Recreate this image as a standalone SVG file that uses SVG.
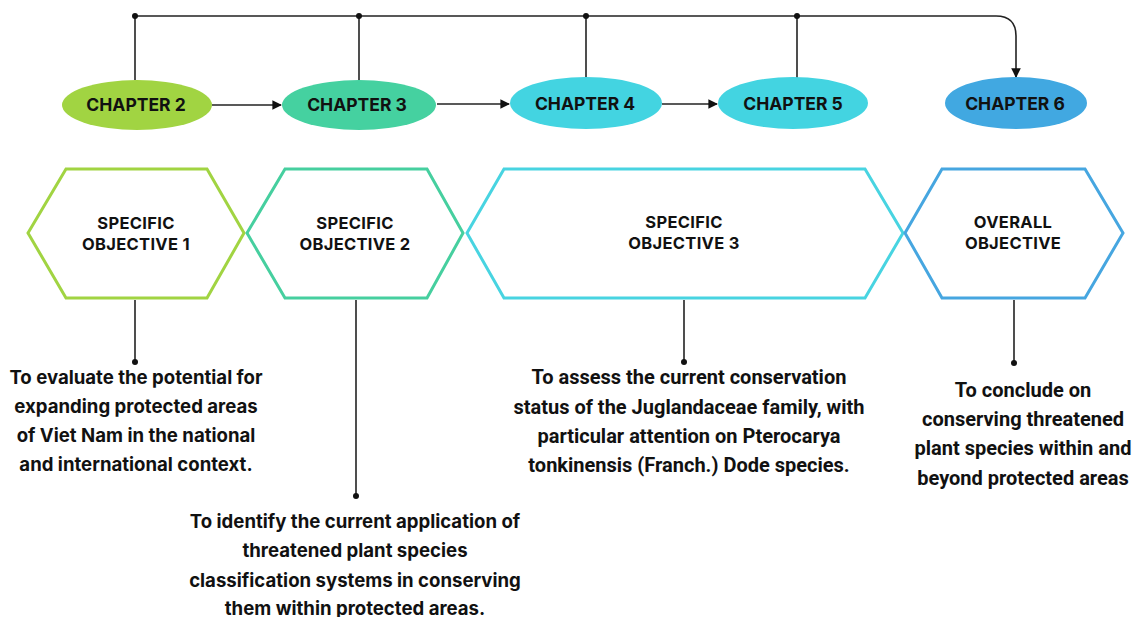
<svg xmlns="http://www.w3.org/2000/svg" width="1144" height="617" viewBox="0 0 1144 617">
  <style>
    .chap { font-family: Inter, "Liberation Sans", sans-serif; font-weight: 700; font-size: 17.5px; fill: #111; text-anchor: middle; }
    .hex { fill: #fff; stroke-width: 3; stroke-linejoin: miter; }
    .hlab { font-family: Inter, "Liberation Sans", sans-serif; font-weight: 700; font-size: 16.5px; fill: #111; text-anchor: middle; letter-spacing: 0.3px; }
    .desc { font-family: Inter, "Liberation Sans", sans-serif; font-weight: 700; font-size: 18.6px; fill: #111; text-anchor: middle; }
    .desc2 { font-family: Roboto, "Liberation Sans", sans-serif; font-weight: 700; font-size: 20px; fill: #111; text-anchor: middle; }
    .line { fill: none; stroke: #222; stroke-width: 1.6; }
    .dot { fill: #111; }
  </style>
  <defs>
    <marker id="arrow" viewBox="0 0 10 10" refX="9" refY="5" markerWidth="6" markerHeight="6" orient="auto">
      <path d="M0,0 L10,5 L0,10 z" fill="#111"/>
    </marker>
  </defs>

  <rect width="1144" height="617" fill="#fff"/>

  <!-- connectors -->
  <g id="connectors">
    <path class="line" d="M135,16 H996 Q1016,16 1016,36 V77" marker-end="url(#arrow)"/>
    <line class="line" x1="135" y1="16" x2="135" y2="80"/>
    <line class="line" x1="359" y1="16" x2="359" y2="80"/>
    <line class="line" x1="586" y1="16" x2="586" y2="78"/>
    <line class="line" x1="797" y1="16" x2="797" y2="78"/>
    <circle class="dot" cx="135" cy="16" r="3"/>
    <circle class="dot" cx="359" cy="16" r="3"/>
    <circle class="dot" cx="586" cy="16" r="3"/>
    <circle class="dot" cx="797" cy="16" r="3"/>

    <line class="line" x1="212" y1="105" x2="281" y2="105" marker-end="url(#arrow)"/>
    <line class="line" x1="437" y1="104" x2="509" y2="104" marker-end="url(#arrow)"/>
    <line class="line" x1="662" y1="104" x2="717" y2="104" marker-end="url(#arrow)"/>

    <line class="line" x1="135" y1="300" x2="135" y2="362"/>
    <circle class="dot" cx="135" cy="362" r="3"/>
    <line class="line" x1="356" y1="300" x2="356" y2="496"/>
    <circle class="dot" cx="356" cy="496" r="3"/>
    <line class="line" x1="684" y1="300" x2="684" y2="362"/>
    <circle class="dot" cx="684" cy="362" r="3"/>
    <line class="line" x1="1014" y1="300" x2="1014" y2="363"/>
    <circle class="dot" cx="1014" cy="363" r="3"/>
  </g>

  <!-- chapters -->
  <g id="chapter2">
    <ellipse cx="137" cy="105" rx="75" ry="25" fill="#A1D442"/>
    <text class="chap" x="136" y="110.5">CHAPTER 2</text>
  </g>
  <g id="chapter3">
    <ellipse cx="359" cy="105" rx="77" ry="25" fill="#45D1A0"/>
    <text class="chap" x="357" y="110.5">CHAPTER 3</text>
  </g>
  <g id="chapter4">
    <ellipse cx="586" cy="103" rx="76" ry="26" fill="#43D4E1"/>
    <text class="chap" x="585" y="109.5">CHAPTER 4</text>
  </g>
  <g id="chapter5">
    <ellipse cx="793" cy="103" rx="75" ry="26" fill="#43D4E1"/>
    <text class="chap" x="793" y="109.5">CHAPTER 5</text>
  </g>
  <g id="chapter6">
    <ellipse cx="1016" cy="103" rx="71" ry="26" fill="#41A8E1"/>
    <text class="chap" x="1015" y="109.5">CHAPTER 6</text>
  </g>

  <!-- objectives -->
  <g id="objective1">
    <polygon class="hex" stroke="#A1D442" points="28,233 66,169 207,169 244,233 207,298 66,298"/>
    <text class="hlab" x="136" y="229">SPECIFIC</text>
    <text class="hlab" x="136" y="250">OBJECTIVE 1</text>
  </g>
  <g id="objective2">
    <polygon class="hex" stroke="#46CF9F" points="247,233 285,169 427,169 463,233 427,298 285,298"/>
    <text class="hlab" x="355" y="229">SPECIFIC</text>
    <text class="hlab" x="355" y="250">OBJECTIVE 2</text>
  </g>
  <g id="objective3">
    <polygon class="hex" stroke="#48D4E1" points="467,233 504,169 865,169 903,233 865,298 504,298"/>
    <text class="hlab" x="684" y="228">SPECIFIC</text>
    <text class="hlab" x="684" y="249">OBJECTIVE 3</text>
  </g>
  <g id="objective4">
    <polygon class="hex" stroke="#46A6E0" points="905,233 942,169 1085,169 1123,233 1085,298 942,298"/>
    <text class="hlab" x="1013" y="228">OVERALL</text>
    <text class="hlab" x="1013" y="249">OBJECTIVE</text>
  </g>

  <!-- descriptions -->
  <g id="desc1">
    <text class="desc" x="136" y="384">To evaluate the potential for</text>
    <text class="desc" x="136" y="413">expanding protected areas</text>
    <text class="desc" x="136" y="442">of Viet Nam in the national</text>
    <text class="desc" x="136" y="471">and international context.</text>
  </g>
  <g id="desc2">
    <text class="desc" x="355" y="528">To identify the current application of</text>
    <text class="desc" x="355" y="557">threatened plant species</text>
    <text class="desc" x="355" y="587">classification systems in conserving</text>
    <text class="desc" x="355" y="615">them within protected areas.</text>
  </g>
  <g id="desc3">
    <text class="desc2" x="689" y="384">To assess the current conservation</text>
    <text class="desc2" x="689" y="414">status of the Juglandaceae family, with</text>
    <text class="desc2" x="689" y="443">particular attention on Pterocarya</text>
    <text class="desc2" x="689" y="472">tonkinensis (Franch.) Dode species.</text>
  </g>
  <g id="desc4">
    <text class="desc2" x="1023" y="397">To conclude on</text>
    <text class="desc2" x="1023" y="426">conserving threatened</text>
    <text class="desc2" x="1023" y="455">plant species within and</text>
    <text class="desc2" x="1023" y="485">beyond protected areas</text>
  </g>
</svg>
